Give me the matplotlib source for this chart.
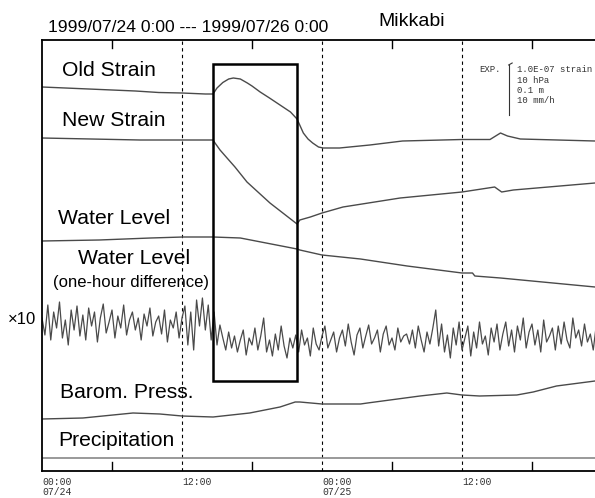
import matplotlib
matplotlib.use("Agg")
import matplotlib.pyplot as plt
import numpy as np

# Chart vertical position (0 = top edge of frame, 431 = bottom edge), time in hours
old_strain_t = [0, 2, 4, 6, 8, 10, 12, 14, 14.66, 15.0, 15.5, 16.0, 16.4, 17.0, 17.6, 18.0,
                18.7, 19.5, 20.4, 21.3, 21.86, 22.4, 22.8, 23.2, 23.7, 24.1, 25.5, 28.1,
                30.9, 36.0, 38.4, 39.3, 39.9, 41.0, 47.4, 48]
old_strain_y = [87, 88, 89, 90, 91, 92.5, 93, 94, 94, 88, 82.5, 79, 78, 79, 83, 86,
                92, 98, 105, 112, 119, 133, 139, 143, 147, 148, 148, 145,
                141, 139.5, 139.5, 133, 136, 139, 141, 141]

new_strain_t = [0, 8.4, 13.5, 14.66, 14.83, 15.26, 15.86, 16.54, 17.57, 19.54, 21.86,
                22.1, 23.0, 24.0, 25.8, 30.7, 36.0, 38.8, 39.4, 40.4, 47.4, 48]
new_strain_y = [138, 140, 140, 140, 143, 150, 158, 167, 182, 203, 224,
                220, 217, 213, 207, 198, 192, 187, 192, 190, 183, 183]

water_t = [0, 4.9, 9.3, 12.1, 14.66, 17.0, 21.86, 22.1, 24.0, 27.3, 31.3, 36.0, 36.9,
           37.1, 39.3, 43.8, 47.4, 48]
water_y = [241, 240, 238, 237, 237, 238, 249, 250, 255, 259, 266, 273, 273,
           276, 278, 283, 287, 287]

# one-hour difference of water level (x10), 15-minute samples
diff_y = [318, 335, 305, 340, 312, 328, 302, 338,
          320, 345, 310, 330, 306, 336, 315, 340,
          308, 326, 312, 342, 318, 304, 333, 322,
          310, 338, 316, 328, 305, 335, 320, 312,
          330, 318, 340, 314, 326, 308, 336, 322,
          316, 334, 310, 342, 320, 328, 312, 338,
          318, 306, 345, 312, 350, 300, 326, 298,
          330, 305, 340, 312, 345, 325, 338, 350,
          332, 348, 336, 352, 340, 330, 355, 338,
          345, 328, 350, 336, 318, 352, 340, 356,
          334, 350, 326, 346, 358, 338, 348, 335,
          352, 330, 345, 338, 356, 328, 344, 350,
          336, 326, 348, 340, 332, 352, 338, 330,
          346, 324, 342, 355, 335, 328, 348, 336,
          325, 344, 338, 330, 352, 334, 326, 345,
          338, 350, 328, 342, 336, 334, 344, 330,
          348, 326, 340, 352, 332, 344, 328, 310,
          346, 324, 352, 335, 358, 328, 345, 322,
          350, 338, 326, 356, 332, 348, 322, 344,
          336, 355, 328, 342, 324, 350, 334, 322,
          346, 330, 352, 326, 340, 318, 348, 332,
          324, 345, 330, 352, 320, 342, 336, 328,
          350, 326, 344, 322, 340, 348, 318, 338,
          330, 346, 324, 342, 334, 350, 326, 340]
diff_t = np.arange(len(diff_y)) * 0.25

barom_t = [0, 3.5, 7.8, 10.1, 12.0, 14.66, 17.8, 20.4, 21.7, 22.1, 24.0, 27.3, 27.9,
           32.4, 34.7, 36.0, 37.5, 40.7, 42.1, 44.1, 47.4, 48]
barom_y = [419, 418, 413, 414, 416, 417, 413, 407, 402, 402, 404, 404, 403,
           396, 393, 395, 396, 395, 392, 386, 381, 381]

precip_t = [0, 48]
precip_y = [418, 418]

hour_ticks = [6, 18, 30, 42]
dash_hours = [12, 24, 36]
tick_labels = [(0, "00:00\n07/24"), (12, "12:00"), (24, "00:00\n07/25"), (36, "12:00")]

scale_labels = ["1.0E-07 strain", "10 hPa", "0.1 m", "10 mm/h"]

box_t = (14.66, 21.86)
box_y = (24, 341)

TRACE = "#4a4a4a"
W, H = 595, 498

fig = plt.figure(figsize=(W / 100, H / 100), dpi=100)
# frame runs past the right edge of the picture (48 h = 560 px)
ax = fig.add_axes([42 / W, (H - 471) / H, 560 / W, 431 / H])
ax.set_xlim(0, 48)
ax.set_ylim(431, 0)
ax.set_xticks([])
ax.set_yticks([])
for s in ("left", "top", "bottom"):
    ax.spines[s].set_linewidth(1.3)
ax.spines["right"].set_visible(False)

for h in dash_hours:
    ax.axvline(h, color="black", lw=0.8, ls=(0, (3, 3)))
for h in hour_ticks:
    ax.plot([h, h], [0, 8], color="black", lw=1)
    ax.plot([h, h], [422, 431], color="black", lw=1)

ax.plot(old_strain_t, np.array(old_strain_y) - 40, color=TRACE, lw=1)
ax.plot(new_strain_t, np.array(new_strain_y) - 40, color=TRACE, lw=1)
ax.plot(water_t, np.array(water_y) - 40, color=TRACE, lw=1)
ax.plot(diff_t, np.array(diff_y) - 40, color=TRACE, lw=0.9)
ax.plot(barom_t, np.array(barom_y) - 40, color=TRACE, lw=1)
ax.plot(precip_t, precip_y, color="#888888", lw=1.2)

ax.add_patch(plt.Rectangle((box_t[0], box_y[0]), box_t[1] - box_t[0], box_y[1] - box_y[0],
                           fill=False, ec="black", lw=1.8, zorder=5))

lab = dict(family="Liberation Sans", fontsize=15.2, va="center", ha="left")
ax.text(1.7, 30, "Old Strain", **lab)
ax.text(1.7, 81, "New Strain", **lab)
ax.text(1.4, 178, "Water Level", **lab)
ax.text(3.1, 218, "Water Level", **lab)
ax.text(0.95, 243, "(one-hour difference)", family="Liberation Sans", fontsize=12,
        va="center", ha="left")
ax.text(1.55, 352, "Barom. Press.", **lab)
ax.text(1.4, 400, "Precipitation", **lab)

mono = dict(family="Liberation Mono", fontsize=6.5, color="#333333")
ax.text(37.5, 30, "EXP.", va="center", ha="left", **mono)
for i, s in enumerate(scale_labels):
    ax.text(40.7, 30 + i * 10.3, s, va="center", ha="left", **mono)
ax.plot([40.0, 40.0], [25, 75], color="#333333", lw=0.8)
ax.plot([40.0, 40.3], [25, 23], color="#333333", lw=0.8)

tmono = dict(family="Liberation Mono", fontsize=7, color="#333333")
for h, s in tick_labels:
    ax.text(h, 437, s, va="top", ha="left", linespacing=1.0, clip_on=False, **tmono)

fig.text(48 / W, 1 - 27 / H, "1999/07/24 0:00 --- 1999/07/26 0:00",
         family="Liberation Sans", fontsize=12.6, va="center", ha="left")
fig.text(378 / W, 1 - 22 / H, "Mikkabi", family="Liberation Sans", fontsize=14,
         va="center", ha="left")
fig.text(8 / W, 1 - 319 / H, "×10", family="Liberation Sans", fontsize=12,
         va="center", ha="left")

fig.savefig("out.png", dpi=100)
